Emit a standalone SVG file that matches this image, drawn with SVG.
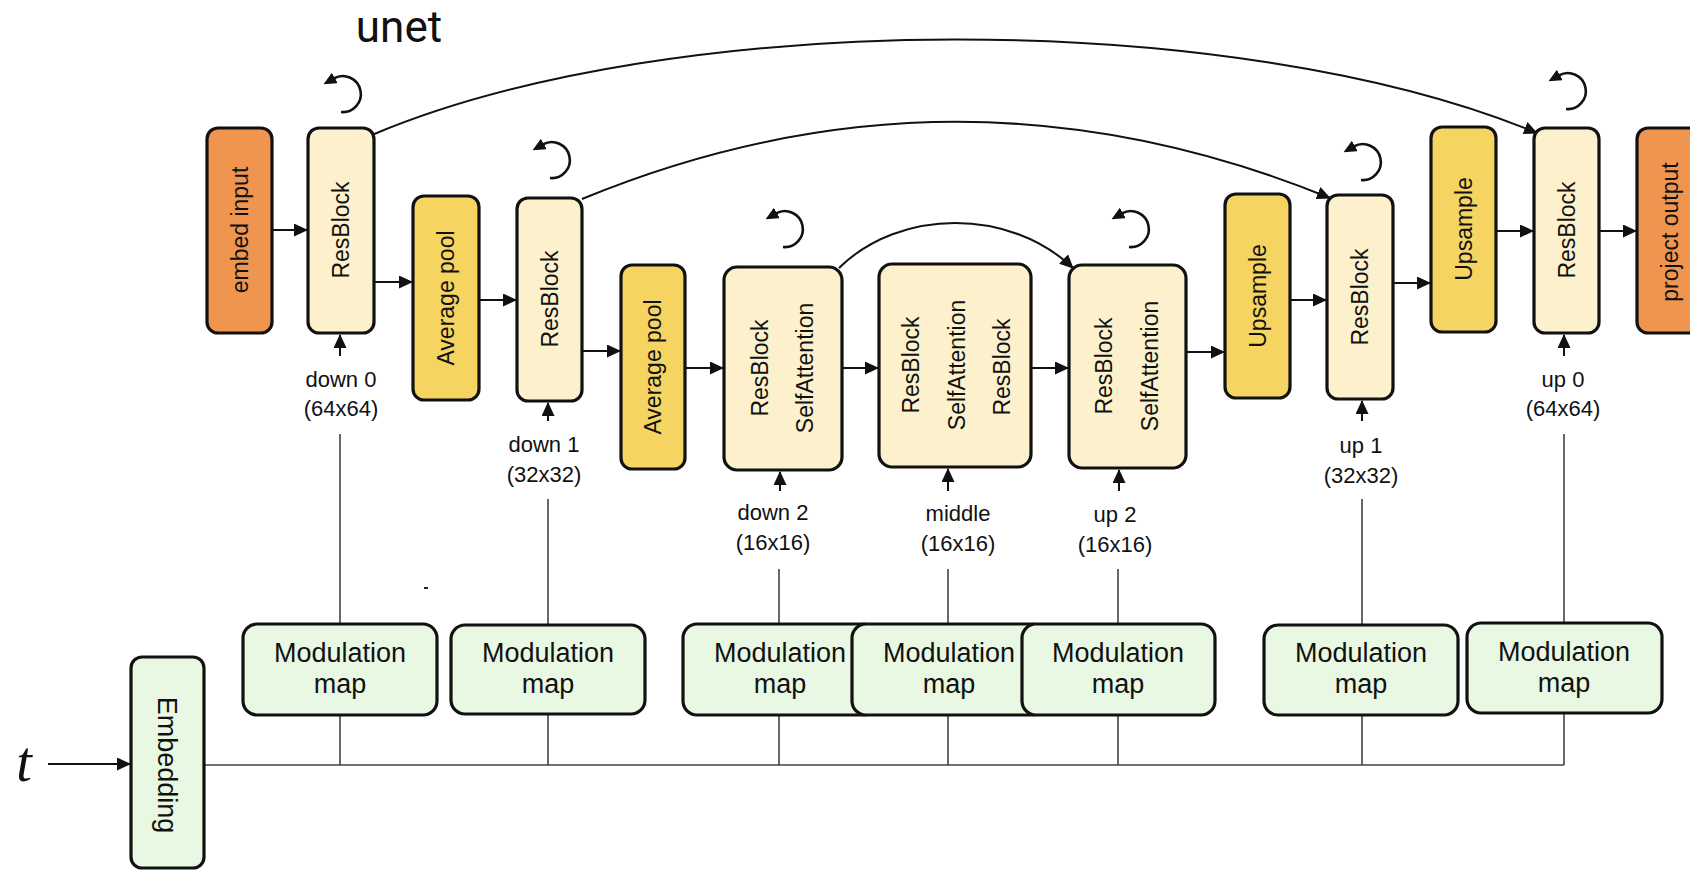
<svg xmlns="http://www.w3.org/2000/svg" width="1690" height="872" viewBox="0 0 1690 872">
<defs>
<style>
.box{stroke:#111;stroke-width:3.2}
.orange{fill:#EF9550}
.gold{fill:#F5D462}
.cream{fill:#FCF1CC}
.green{fill:#E9F8E2}
.vt{font-family:"Liberation Sans",Arial,sans-serif;font-size:23px;fill:#111;text-anchor:middle;dominant-baseline:central}
.lbl{font-family:"Liberation Sans",Arial,sans-serif;font-size:22px;fill:#111;text-anchor:middle}
.mm{font-family:"Liberation Sans",Arial,sans-serif;font-size:27px;fill:#111;text-anchor:middle}
.arr{stroke:#111;stroke-width:2;fill:none;marker-end:url(#ah)}
.loop{stroke:#111;stroke-width:2.6;fill:none;marker-end:url(#lh)}
.gl{stroke:#444;stroke-width:1.6;fill:none}
</style>
<marker id="ah" markerUnits="userSpaceOnUse" markerWidth="14" markerHeight="13" viewBox="0 0 14 13" refX="13" refY="6.5" orient="auto">
<path d="M0,0 L14,6.5 L0,13 z" fill="#111"/>
</marker>
<marker id="lh" markerUnits="userSpaceOnUse" markerWidth="13" markerHeight="12" viewBox="0 0 13 12" refX="1" refY="6" orient="auto">
<path d="M0,0 L13,6 L0,12 z" fill="#111"/>
</marker>
<path id="loopP" class="loop" d="M -2 18 A 18 18 0 1 0 -9 -15.6"/>
</defs>
<rect width="1690" height="872" fill="#fff"/>

<text x="399" y="42" font-family="Roboto,'Liberation Sans',sans-serif" font-size="44" fill="#111" text-anchor="middle">unet</text>

<g id="connectors">
<path class="gl" d="M340 434 V765 M548 499 V765 M779 569 V765 M948 569 V765 M1118 569 V765 M1362 499 V765 M1564 434 V765 M204 765 H1564"/>
<path class="arr" d="M48 764 H130"/>
<path class="arr" d="M272 230 H307"/>
<path class="arr" d="M374 282 H412"/>
<path class="arr" d="M479 300 H516"/>
<path class="arr" d="M582 351 H620"/>
<path class="arr" d="M685 368 H723"/>
<path class="arr" d="M842 368 H878"/>
<path class="arr" d="M1031 368 H1068"/>
<path class="arr" d="M1186 352 H1224"/>
<path class="arr" d="M1290 300 H1326"/>
<path class="arr" d="M1393 283 H1430"/>
<path class="arr" d="M1496 231 H1533"/>
<path class="arr" d="M1599 231 H1636"/>
<path class="arr" d="M340 356 V335"/>
<path class="arr" d="M548 421 V403"/>
<path class="arr" d="M780 491 V472"/>
<path class="arr" d="M948 491 V469"/>
<path class="arr" d="M1119 491 V470"/>
<path class="arr" d="M1362 421 V401"/>
<path class="arr" d="M1564 356 V335"/>
<path class="arr" d="M372 135 C672 8 1237 8 1537 133"/>
<path class="arr" d="M582 199 C832 96 1080 96 1330 198"/>
<path class="arr" d="M839 268 C900 208 1010 208 1073 268"/>
<use href="#loopP" transform="translate(343,94)"/>
<use href="#loopP" transform="translate(552,160)"/>
<use href="#loopP" transform="translate(785,229)"/>
<use href="#loopP" transform="translate(1131,229)"/>
<use href="#loopP" transform="translate(1363,162)"/>
<use href="#loopP" transform="translate(1568,91)"/>
</g>

<rect x="424" y="587" width="4" height="2" fill="#222"/>

<g id="embed-input"><rect class="box orange" x="207" y="128" width="65" height="205" rx="11"/><text class="vt" transform="translate(240,230) rotate(-90)">embed input</text></g>
<g id="resblock-down0"><rect class="box cream" x="308" y="128" width="66" height="205" rx="11"/><text class="vt" transform="translate(341,230) rotate(-90)">ResBlock</text></g>
<g id="avgpool-1"><rect class="box gold" x="413" y="196" width="66" height="204" rx="11"/><text class="vt" transform="translate(446,298) rotate(-90)">Average pool</text></g>
<g id="resblock-down1"><rect class="box cream" x="517" y="198" width="65" height="203" rx="11"/><text class="vt" transform="translate(550,299) rotate(-90)">ResBlock</text></g>
<g id="avgpool-2"><rect class="box gold" x="621" y="265" width="64" height="204" rx="11"/><text class="vt" transform="translate(653,367) rotate(-90)">Average pool</text></g>
<g id="block-down2"><rect class="box cream" x="724" y="267" width="118" height="203" rx="13"/><text class="vt" transform="translate(760,368) rotate(-90)">ResBlock</text><text class="vt" transform="translate(805,368) rotate(-90)">SelfAttention</text></g>
<g id="block-middle"><rect class="box cream" x="879" y="264" width="152" height="203" rx="13"/><text class="vt" transform="translate(911,365) rotate(-90)">ResBlock</text><text class="vt" transform="translate(957,365) rotate(-90)">SelfAttention</text><text class="vt" transform="translate(1002,367) rotate(-90)">ResBlock</text></g>
<g id="block-up2"><rect class="box cream" x="1069" y="265" width="117" height="203" rx="13"/><text class="vt" transform="translate(1104,366) rotate(-90)">ResBlock</text><text class="vt" transform="translate(1150,366) rotate(-90)">SelfAttention</text></g>
<g id="upsample-1"><rect class="box gold" x="1225" y="194" width="65" height="204" rx="11"/><text class="vt" transform="translate(1258,296) rotate(-90)">Upsample</text></g>
<g id="resblock-up1"><rect class="box cream" x="1327" y="195" width="66" height="204" rx="11"/><text class="vt" transform="translate(1360,297) rotate(-90)">ResBlock</text></g>
<g id="upsample-2"><rect class="box gold" x="1431" y="127" width="65" height="205" rx="11"/><text class="vt" transform="translate(1464,229) rotate(-90)">Upsample</text></g>
<g id="resblock-up0"><rect class="box cream" x="1534" y="128" width="65" height="205" rx="11"/><text class="vt" transform="translate(1567,230) rotate(-90)">ResBlock</text></g>
<g id="project-output"><rect class="box orange" x="1637" y="128" width="66" height="205" rx="11"/><text class="vt" transform="translate(1670,232) rotate(-90)">project output</text></g>

<g id="labels">
<text class="lbl" x="341" y="387">down 0</text><text class="lbl" x="341" y="416">(64x64)</text>
<text class="lbl" x="544" y="452">down 1</text><text class="lbl" x="544" y="482">(32x32)</text>
<text class="lbl" x="773" y="520">down 2</text><text class="lbl" x="773" y="550">(16x16)</text>
<text class="lbl" x="958" y="521">middle</text><text class="lbl" x="958" y="551">(16x16)</text>
<text class="lbl" x="1115" y="522">up 2</text><text class="lbl" x="1115" y="552">(16x16)</text>
<text class="lbl" x="1361" y="453">up 1</text><text class="lbl" x="1361" y="483">(32x32)</text>
<text class="lbl" x="1563" y="387">up 0</text><text class="lbl" x="1563" y="416">(64x64)</text>
</g>

<g id="t-input"><text x="24" y="781" font-family="'Liberation Serif','Times New Roman',serif" font-style="italic" font-size="56" fill="#111" text-anchor="middle">t</text></g>
<g id="embedding"><rect class="box green" x="131" y="657" width="73" height="211" rx="11"/><text class="mm" dominant-baseline="central" transform="translate(167,765) rotate(90)">Embedding</text></g>

<g id="mod-down0"><rect class="box green" x="243" y="624" width="194" height="91" rx="14"/><text class="mm" x="340" y="662">Modulation</text><text class="mm" x="340" y="693">map</text></g>
<g id="mod-down1"><rect class="box green" x="451" y="625" width="194" height="89" rx="14"/><text class="mm" x="548" y="662">Modulation</text><text class="mm" x="548" y="693">map</text></g>
<g id="mod-down2"><rect class="box green" x="683" y="624" width="194" height="91" rx="14"/><text class="mm" x="780" y="662">Modulation</text><text class="mm" x="780" y="693">map</text></g>
<g id="mod-middle"><rect class="box green" x="852" y="624" width="194" height="91" rx="14"/><text class="mm" x="949" y="662">Modulation</text><text class="mm" x="949" y="693">map</text></g>
<g id="mod-up2"><rect class="box green" x="1022" y="624" width="193" height="91" rx="14"/><text class="mm" x="1118" y="662">Modulation</text><text class="mm" x="1118" y="693">map</text></g>
<g id="mod-up1"><rect class="box green" x="1264" y="625" width="194" height="90" rx="14"/><text class="mm" x="1361" y="662">Modulation</text><text class="mm" x="1361" y="693">map</text></g>
<g id="mod-up0"><rect class="box green" x="1467" y="623" width="195" height="90" rx="14"/><text class="mm" x="1564" y="661">Modulation</text><text class="mm" x="1564" y="692">map</text></g>
</svg>
